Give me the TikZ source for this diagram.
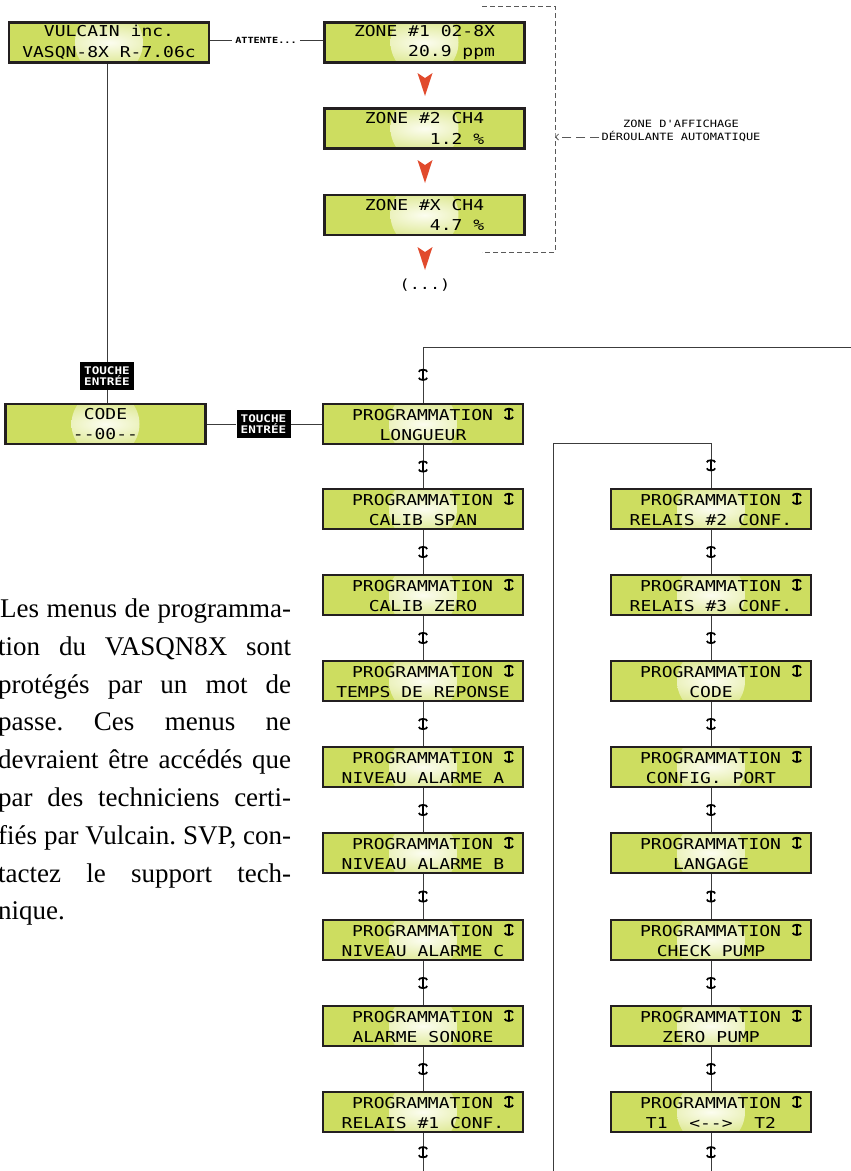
\documentclass[tikz,border=0pt]{standalone}
\usepackage{fontspec}
\setmainfont{Liberation Serif}
\newfontfamily\lcdfont{DejaVu Sans Mono}[FakeStretch=1.2,Ligatures=TeXOff]
\usetikzlibrary{arrows.meta}

\definecolor{lcdgreen}{RGB}{205,221,96}
\definecolor{lcdglow}{RGB}{252,253,240}
\definecolor{lcdrim}{RGB}{35,31,32}
\definecolor{zonered}{RGB}{225,74,44}
\definecolor{wire}{RGB}{60,60,60}

\newcommand{\updn}{\tikz[baseline=-0.5pt]\draw[line width=1.7pt,{Arc Barb[width=10pt,length=3pt]}-{Arc Barb[width=10pt,length=3pt]}] (0pt,0pt) -- (0pt,12pt);}
\newcommand{\prog}[1]{\hspace*{20pt}PROGRAMMATION \updn\\#1}

\tikzset{
	lcdbox/.style={line width=2.8pt, fill=lcdgreen, minimum width=200pt, minimum height=40pt, inner sep=0pt, align=center,
		font=\lcdfont\fontsize{15}{20.5}\selectfont,
		path picture={\shade[inner color=lcdglow, outer color=lcdgreen] (path picture bounding box.center) circle (34pt);},
		postaction={draw=lcdrim, line width=2.8pt}},
	zonebox/.style={lcdbox, align=right},
	keytag/.style={fill=black, text=white, minimum width=54pt, inner xsep=3pt, inner ysep=4pt, align=center, font=\lcdfont\bfseries\fontsize{10.5}{11.5}\selectfont},
	link/.style={draw=wire, line width=0.9pt},
	loopdash/.style={draw=black!65, line width=0.8pt, dash pattern=on 5pt off 3pt},
	glyph/.style={inner sep=0pt},
	note/.style={anchor=north west, inner sep=0pt, align=left, font=\fontsize{27}{37.8}\selectfont\frenchspacing}
}

\begin{document}
\begin{tikzpicture}[x=1pt, y=-1pt]
	\useasboundingbox (0,0) rectangle (851,1171);

	\node[lcdbox] (vulcain) at (109,42.5) {VULCAIN inc.\\VASQN-8X R-7.06c};
	\node[font=\lcdfont\bfseries\fontsize{8.5}{9}\selectfont, inner sep=3pt] (wait) at (266,40) {ATTENTE...};
	\node[zonebox] (zone1) at (424.5,42.5) {ZONE \#1 02-8X\\20.9 ppm};
	\node[zonebox] (zone2) at (424.5,128.5) {ZONE \#2 CH4\\1.2 \%};
	\node[zonebox] (zone3) at (424.5,215) {ZONE \#X CH4\\4.7 \%};
	\node[font=\lcdfont\fontsize{14}{14}\selectfont] (more) at (425,285) {(...)};
		\draw[link] (vulcain.east |- wait) -- (wait.west);
		\draw[link] (wait.east) -- (zone1.west |- wait);
		\foreach \ya in {73,160,247}
			\fill[zonered] (417.5,\ya) -- (425,\ya+5) -- (432.5,\ya) -- (425,\ya+23) -- cycle;

	\coordinate (scrollT) at (482,6);
	\coordinate (scrollB) at (482,252);
	\coordinate (scrollM) at (555,137);
	\draw[loopdash] (scrollT) -| (scrollM) |- (scrollB);
	\node[font=\lcdfont\fontsize{10}{12.5}\selectfont, align=center, inner sep=2pt] (scrolltxt) at (681,131) {ZONE D'AFFICHAGE\\DÉROULANTE AUTOMATIQUE};
		\draw[loopdash, dash pattern=on 9pt off 5pt, -{Straight Barb[length=3pt,width=6pt]}] (scrolltxt.west |- scrollM) -- (scrollM);

	\node[lcdbox] (code) at (105.5,424) {CODE\\--00--};
	\node[keytag] (key1) at (107,376) {TOUCHE\\ENTRÉE};
	\node[keytag] (key2) at (263.5,424) {TOUCHE\\ENTRÉE};
		\draw[link] (key1 |- vulcain.south) -- (key1.north);
		\draw[link] (key1.south) -- (key1 |- code.north);

	\foreach \name/\yy/\txt in {pgmA1/424/LONGUEUR, pgmA2/509/CALIB SPAN, pgmA3/595/CALIB ZERO, pgmA4/681/TEMPS DE REPONSE,
		pgmA5/767/NIVEAU ALARME A, pgmA6/853/NIVEAU ALARME B, pgmA7/940/NIVEAU ALARME C, pgmA8/1026/ALARME SONORE, pgmA9/1112/RELAIS \#1 CONF.}
		\node[lcdbox] (\name) at (423,\yy) {\prog{\txt}};
	\foreach \name/\yy/\txt in {pgmB1/509/RELAIS \#2 CONF., pgmB2/595/RELAIS \#3 CONF., pgmB3/681/CODE, pgmB4/767/CONFIG. PORT,
		pgmB5/853/LANGAGE, pgmB6/940/CHECK PUMP, pgmB7/1026/ZERO PUMP, pgmB8/1112/T1\ \ <-->\ \ T2}
		\node[lcdbox] (\name) at (711,\yy) {\prog{\txt}};

	\draw[link] (code) -- (key2) -- (pgmA1);

	\coordinate (loopR) at (851,347);
	\coordinate (loopB) at (553,1171);
	\draw[link] (loopR) -- (pgmA1.north |- loopR) -- node[glyph] (gA0) {\updn} (pgmA1.north);
	\foreach \a/\b in {1/2,2/3,3/4,4/5,5/6,6/7,7/8,8/9}
		\draw[link] (pgmA\a) -- node[glyph] (gA\a) {\updn} (pgmA\b);
	\draw[link] (pgmA9) -- node[glyph] (gA9) {\updn} (pgmA9.south |- 0,1171);

	\draw[link] (loopB) |- (pgmB1.north |- 0,443) -- node[glyph] (gB0) {\updn} (pgmB1.north);
	\foreach \a/\b in {1/2,2/3,3/4,4/5,5/6,6/7,7/8}
		\draw[link] (pgmB\a) -- node[glyph] (gB\a) {\updn} (pgmB\b);
	\draw[link] (pgmB8) -- node[glyph] (gB8) {\updn} (pgmB8.south |- 0,1171);

	\node[note] (note) at (-2,598.6) {\hspace*{2pt}\makebox[291pt][s]{Les menus de programma-}\\
		\makebox[293pt][s]{tion du VASQN8X sont}\\
		\makebox[293pt][s]{protégés par un mot de}\\
		\makebox[293pt][s]{passe. Ces menus ne}\\
		\makebox[293pt][s]{devraient être accédés que}\\
		\makebox[293pt][s]{par des techniciens certi-}\\
		\makebox[293pt][s]{fiés par Vulcain. SVP, con-}\\
		\makebox[293pt][s]{tactez le support tech-}\\
		nique.};
\end{tikzpicture}
\end{document}
